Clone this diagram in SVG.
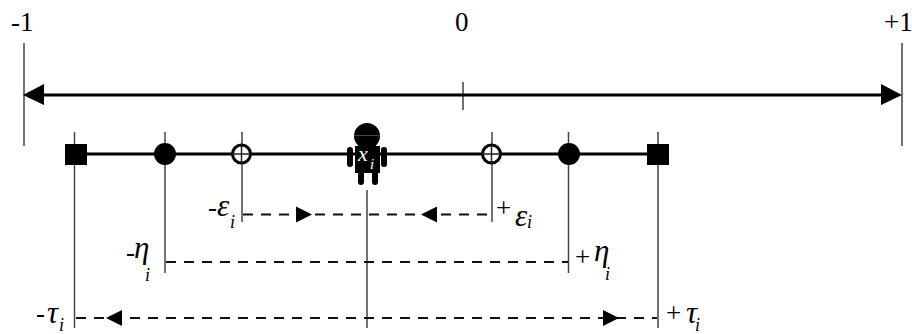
<svg xmlns="http://www.w3.org/2000/svg" width="912" height="334" viewBox="0 0 912 334">
<style>
.t{font-family:"Liberation Serif",serif;font-size:27px;fill:#000}
.g{font-style:italic;font-size:31px}
.s{font-style:italic;font-size:18px}
.v{stroke:#444;stroke-width:1.5;fill:none}
.h{stroke:#000;stroke-width:3;fill:none}
.d{stroke:#111;stroke-width:2;stroke-dasharray:10 8;fill:none}
.a{fill:#000;stroke:none}
.o{fill:#fff;stroke:#000;stroke-width:3}
.c{stroke:#222;stroke-width:1.5;fill:none}
</style>
<rect width="912" height="334" fill="#fff"/>
<g id="connectors">
<path class="v" d="M24 43V146M902 43V146M463 82V110"/>
<path class="h" d="M40 95H885M76 154H658"/>
<path class="v" d="M74.500 132V328M165 132V273M242 132V222M367 190V328M492 132V222M568.500 132V273M658 132V328"/>
<path class="d" d="M243 214.500H491M166 262H568M76 318H657"/>
<path class="a" d="M23 95L44 84V105ZM902 95L881 84V105ZM312 214.500L296 206.500V222.500ZM421 214.500L437 206.500V222.500ZM106 318L122 310V326ZM619 318L603 310V326Z"/>
</g>
<g id="node-tau-minus"><rect class="a" x="65" y="144" width="22" height="21"/></g>
<g id="node-eta-minus"><circle class="a" cx="165" cy="154" r="11"/></g>
<g id="node-eps-minus"><circle class="o" cx="241.500" cy="154" r="9"/><path class="c" d="M232 154H251M241.500 145V163"/></g>
<g id="node-xi">
<circle class="a" cx="367" cy="136" r="13"/>
<path d="M354 135.500H380" stroke="#444" stroke-width="1"/>
<rect class="a" x="355" y="146" width="25" height="27"/>
<rect class="a" x="347" y="147" width="6" height="20" rx="3"/>
<rect class="a" x="381" y="147" width="6" height="20" rx="3"/>
<rect class="a" x="358" y="170" width="6" height="15" rx="3"/>
<rect class="a" x="372" y="170" width="6" height="15" rx="3"/>
<text x="358" y="161" style="font-family:'Liberation Serif',serif;font-style:italic;font-size:22px;fill:#fff">x</text>
<text x="370" y="169" style="font-family:'Liberation Serif',serif;font-style:italic;font-size:15px;fill:#fff">i</text>
</g>
<g id="node-eps-plus"><circle class="o" cx="491.500" cy="154" r="9"/><path class="c" d="M482 154H501M491.500 145V163"/></g>
<g id="node-eta-plus"><circle class="a" cx="569" cy="154" r="11"/></g>
<g id="node-tau-plus"><rect class="a" x="647" y="144" width="22" height="21"/></g>
<g id="labels">
<text class="t" x="11" y="31">-1</text>
<text class="t" x="455" y="31">0</text>
<text class="t" x="884" y="31">+1</text>
<text class="t" x="208" y="216">-<tspan class="g" x="217">ε</tspan></text>
<text class="t s" x="230" y="228">i</text>
<text class="t" x="496" y="217">+<tspan class="g" x="515" y="226">ε</tspan></text>
<text class="t s" x="527" y="228">i</text>
<text class="t" x="126" y="261">-<tspan class="g" x="134" y="258">η</tspan></text>
<text class="t s" x="145" y="281">i</text>
<text class="t" x="575" y="266">+<tspan class="g" x="594" y="261">η</tspan></text>
<text class="t s" x="605" y="280">i</text>
<text class="t" x="36" y="322">-<tspan class="g" x="47" y="323">τ</tspan></text>
<text class="t s" x="59" y="331">i</text>
<text class="t" x="666" y="322">+<tspan class="g" x="686" y="323">τ</tspan></text>
<text class="t s" x="695" y="331">i</text>
</g>
</svg>
